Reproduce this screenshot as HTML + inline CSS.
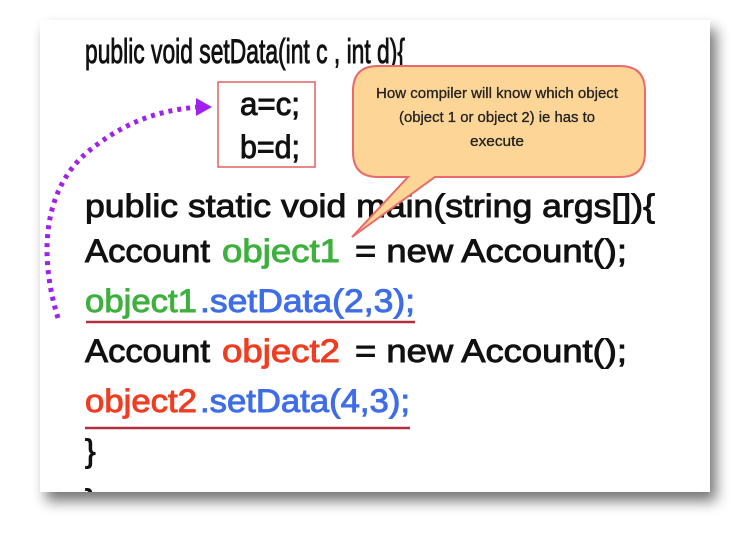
<!DOCTYPE html>
<html><head><meta charset="utf-8"><style>
html,body{margin:0;padding:0;background:#fff;width:751px;height:534px;overflow:hidden}
</style></head><body>
<svg width="751" height="534" viewBox="0 0 751 534" xmlns="http://www.w3.org/2000/svg">
<defs>
<filter id="sh" x="-10%" y="-10%" width="130%" height="130%">
<feGaussianBlur in="SourceAlpha" stdDeviation="7"/>
<feOffset dx="6" dy="9"/>
<feComponentTransfer><feFuncA type="linear" slope="0.55"/></feComponentTransfer>
<feMerge><feMergeNode/><feMergeNode in="SourceGraphic"/></feMerge>
</filter>
<clipPath id="cp"><rect x="40" y="20" width="670" height="472"/></clipPath>
</defs>
<rect x="40" y="20" width="670" height="472" fill="#fff" filter="url(#sh)"/>
<g clip-path="url(#cp)" font-family="Liberation Sans, sans-serif" font-size="32" stroke-width="0.9">
<text x="85" y="63" font-size="34" textLength="320" lengthAdjust="spacingAndGlyphs" fill="#111" stroke="#111">public void setData(int c , int d){</text>
<rect x="218" y="82" width="97" height="85" fill="none" stroke="#e06060" stroke-width="1.5"/>
<text x="240" y="115" textLength="60" lengthAdjust="spacingAndGlyphs" fill="#111" stroke="#111">a=c;</text>
<text x="240" y="158" textLength="60" lengthAdjust="spacingAndGlyphs" fill="#111" stroke="#111">b=d;</text>
<text x="85" y="217" textLength="570" lengthAdjust="spacingAndGlyphs" fill="#111" stroke="#111">public static void main(string args[]){</text>
<text x="85" y="262" textLength="125" lengthAdjust="spacingAndGlyphs" fill="#111" stroke="#111">Account</text>
<text x="222" y="262" textLength="118" lengthAdjust="spacingAndGlyphs" fill="#3db03d" stroke="#3db03d">object1</text>
<text x="355" y="262" textLength="272" lengthAdjust="spacingAndGlyphs" fill="#111" stroke="#111">= new Account();</text>
<text x="85" y="312" textLength="112" lengthAdjust="spacingAndGlyphs" fill="#3db03d" stroke="#3db03d">object1</text>
<text x="200" y="312" textLength="215" lengthAdjust="spacingAndGlyphs" fill="#3f6de8" stroke="#3f6de8">.setData(2,3);</text>
<line x1="86" y1="322" x2="415" y2="322" stroke="#b03040" stroke-width="2.5"/>
<text x="85" y="362" textLength="125" lengthAdjust="spacingAndGlyphs" fill="#111" stroke="#111">Account</text>
<text x="222" y="362" textLength="118" lengthAdjust="spacingAndGlyphs" fill="#f03c20" stroke="#f03c20">object2</text>
<text x="355" y="362" textLength="272" lengthAdjust="spacingAndGlyphs" fill="#111" stroke="#111">= new Account();</text>
<text x="85" y="412" textLength="112" lengthAdjust="spacingAndGlyphs" fill="#f03c20" stroke="#f03c20">object2</text>
<text x="200" y="412" textLength="210" lengthAdjust="spacingAndGlyphs" fill="#3f6de8" stroke="#3f6de8">.setData(4,3);</text>
<line x1="85" y1="428" x2="410" y2="428" stroke="#b03040" stroke-width="2.5"/>
<text x="85" y="462" fill="#111" stroke="#111">}</text>
<text x="85" y="512" fill="#111" stroke="#111">}</text>
</g>
<path d="M58,318 C40,260 40,190 90,150 C130,118 165,110 198,107" fill="none" stroke="#a020f0" stroke-width="5" stroke-dasharray="4,5"/>
<polygon points="196,98 212,107 196,116" fill="#a020f0"/>
<path d="M378,66 H620 Q645,66 645,91 V152 Q645,177 620,177 H435 L352,237 L408,177 H378 Q353,177 353,152 V91 Q353,66 378,66 Z" fill="#fcd597" stroke="#e86a6a" stroke-width="2"/>
<g font-family="Liberation Sans, sans-serif" font-size="15" fill="#222" text-anchor="middle" stroke="#222" stroke-width="0.3">
<text x="497" y="98" textLength="242" lengthAdjust="spacingAndGlyphs">How compiler will know which object</text>
<text x="497" y="122" textLength="196" lengthAdjust="spacingAndGlyphs">(object 1 or object 2) ie has to</text>
<text x="497" y="146" textLength="54" lengthAdjust="spacingAndGlyphs">execute</text>
</g>
</svg>
</body></html>
